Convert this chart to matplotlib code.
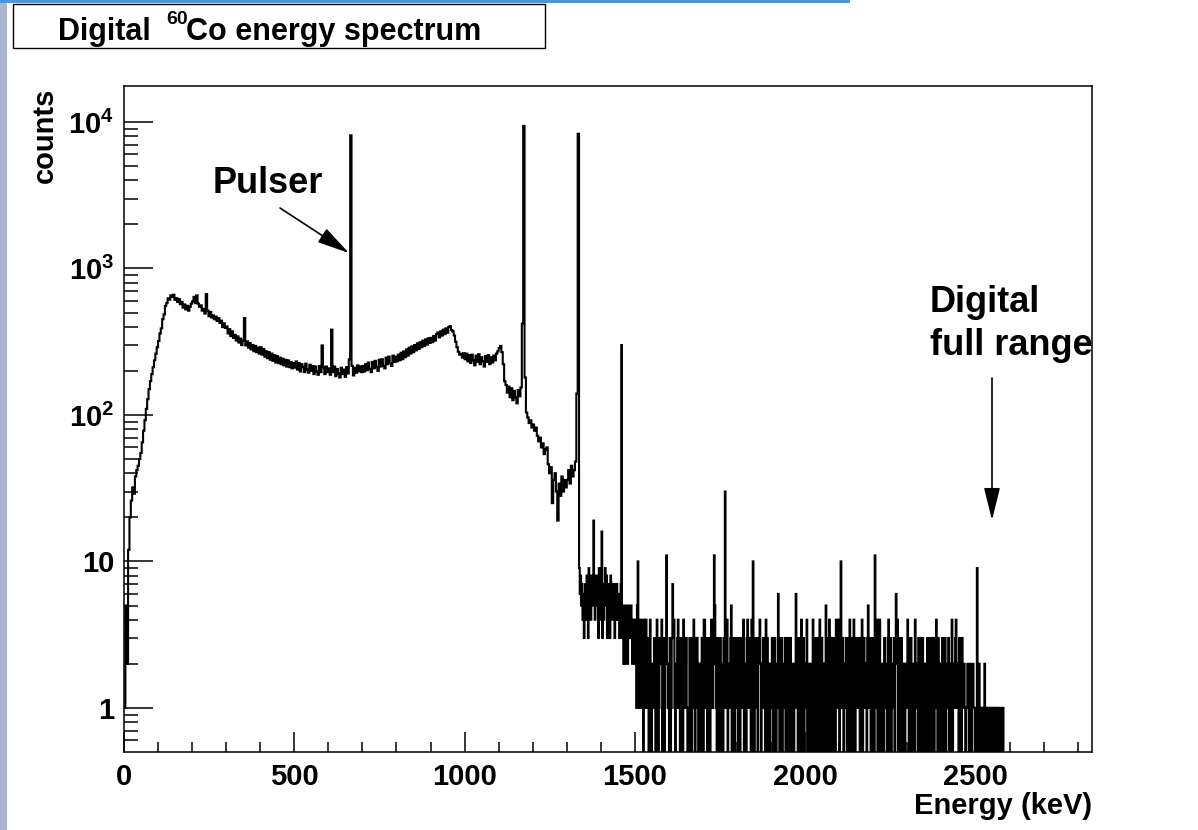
import numpy as np
import matplotlib.pyplot as plt
from matplotlib.patches import Rectangle

plt.rcParams['font.family'] = ['Liberation Sans', 'DejaVu Sans']
plt.rcParams['font.weight'] = 'bold'
plt.rcParams['mathtext.fontset'] = 'custom'
plt.rcParams['mathtext.rm'] = 'Liberation Sans:bold'
plt.rcParams['mathtext.bf'] = 'Liberation Sans:bold'
plt.rcParams['mathtext.it'] = 'Liberation Sans:bold'

# spectrum below 1336 keV, 4 keV bins (counts)
low_start = 0
low_step = 4
low_counts = [
    1, 5, 2, 12, 20, 26, 32, 29, 38, 42, 45, 50, 55, 65, 78, 92, 110, 128, 150, 170, 190, 212, 236, 262, 290,
    320, 360, 390, 450, 485, 555, 580, 625, 612, 655, 640, 662, 610, 628, 590, 618, 570, 592, 540, 568, 525, 556, 515, 548, 575,
    595, 640, 580, 655, 575, 548, 560, 515, 530, 492, 668, 515, 472, 505, 462, 478, 450, 470, 438, 458, 425, 440, 398, 422, 392,
    402, 360, 385, 345, 372, 336, 352, 322, 344, 312, 332, 300, 322, 458, 298, 318, 288, 310, 280, 300, 272, 296, 268, 288, 262,
    290, 258, 282, 250, 272, 244, 268, 238, 262, 234, 256, 228, 252, 226, 246, 222, 242, 218, 238, 214, 236, 212, 230, 208, 226,
    210, 232, 204, 226, 198, 222, 212, 196, 224, 204, 194, 220, 200, 216, 190, 214, 198, 188, 216, 196, 298, 212, 190, 214, 196,
    208, 188, 382, 196, 214, 184, 206, 192, 180, 210, 190, 204, 182, 212, 192, 240, 8100, 216, 186, 210, 194, 218, 198, 214, 196,
    216, 198, 222, 202, 228, 206, 196, 230, 208, 234, 212, 200, 238, 214, 240, 216, 208, 246, 222, 250, 226, 216, 254, 230, 250,
    232, 258, 236, 266, 240, 272, 248, 280, 254, 288, 262, 294, 268, 300, 276, 308, 282, 314, 290, 322, 296, 328, 302, 334, 310,
    336, 314, 346, 322, 356, 366, 338, 372, 348, 382, 356, 390, 364, 398, 404, 380, 372, 348, 316, 290, 270, 258, 262, 246, 264,
    240, 262, 232, 256, 226, 258, 236, 218, 254, 230, 260, 222, 248, 232, 214, 252, 230, 256, 222, 248, 228, 254, 236, 262, 272,
    286, 296, 268, 222, 170, 160, 142, 156, 132, 152, 126, 146, 132, 120, 148, 134, 154, 420, 9400, 180, 104, 96, 88, 92, 82,
    86, 78, 82, 72, 66, 70, 60, 64, 54, 58, 60, 46, 40, 44, 25, 36, 40, 30, 19, 34, 28, 38, 30, 36, 32,
    36, 42, 34, 45, 38, 42, 48, 140, 8300,
]

# tail above 1336 keV, 2 keV bins, one digit = counts in one bin
tail_start = 1336
tail_step = 2
tail_digits = (
    "9685746357" "4863957485" "6374685739" "4658374695" "8374638574"
    "5736475463" "4793524253" "4253435324" "3243152412" "3412043142"
    "1302410221" "3201430123" "2401302302" "1203013734" "1021342103"
    "2104212310" "1032301342" "0313201202" "3104421301" "2302431205"
    "2103120320" "1032312401" "2135012302" "1320320312" "3401203421"
    "2304210031" "2302342021" "3120403021" "0213202310" "1263021302"
    "2130302031" "3012002161" "3021304303" "0212401201" "2104120302"
    "1304203021" "2051203403" "1302300412" "2401321302" "1230203403"
    "2104202312" "3203240132" "1203521302" "3100213402" "2401202031"
    "1203401302" "2130262401" "3203202102" "1243021302" "2104212031"
    "3021302120" "1302130203" "2031420302" "1203021302" "2130202401"
    "2134212031" "2031121011" "2101210121" "1011901210" "1011020101"
    "1010110101" "0101101100" "1010000000" "00"
)
# tail bins with more than 9 counts
peak_keV = [1378, 1402, 1460, 1508, 1592, 1732, 1764, 1846, 2104, 2204]
peak_counts = [19, 16, 300, 10, 11, 11, 30, 10, 10, 11]

xticks = [0, 500, 1000, 1500, 2000, 2500]
yticks = [1, 10, 100, 1000, 10000]
ytick_labels = ['1', '10', r'$10^{2}$', r'$10^{3}$', r'$10^{4}$']

tail = np.array([int(c) for c in tail_digits], dtype=float)
tail[(np.array(peak_keV) - tail_start) // tail_step] = peak_counts
low = np.array(low_counts, dtype=float)
edges = np.concatenate([low_start + low_step * np.arange(len(low) + 1),
                        tail_start + tail_step * np.arange(1, len(tail) + 1)])
counts = np.concatenate([low, tail])
counts = np.where(counts > 0, counts, 1e-3)  # empty bins drop off the log axis

W, H = 1198, 830
fig = plt.figure(figsize=(W / 100, H / 100), dpi=100)
ax = fig.add_axes([124 / W, 1 - 752 / H, 968 / W, 666 / H])

ax.stairs(counts, edges, baseline=None, color='black', lw=1.5)

ax.set_yscale('log')
ax.set_xlim(0, 2842)
ax.set_ylim(0.5, 1.76e4)
ax.set_xticks(xticks)
ax.set_xticks(np.arange(0, 2842, 100), minor=True)
ax.set_yticks(yticks)
ax.set_yticklabels(ytick_labels)
minor_y = [m * 10.0 ** d for d in range(-1, 5) for m in range(2, 10)]
ax.set_yticks([v for v in minor_y if 0.5 < v < 1.76e4], minor=True)
ax.yaxis.set_minor_formatter(plt.NullFormatter())

for s in ax.spines.values():
    s.set_linewidth(1.1)
ax.tick_params(which='both', direction='in', width=1.1, labelsize=21, top=False, right=False)
ax.tick_params(axis='y', which='major', length=21, pad=7)
ax.tick_params(axis='y', which='minor', length=10)
ax.tick_params(axis='x', which='major', length=14.5, pad=8)
ax.tick_params(axis='x', which='minor', length=7.2)

fig.text(1092 / W, 1 - 806 / H, 'Energy (keV)', ha='right', va='center', fontsize=21)
fig.text(45 / W, 1 - 88 / H, 'counts', rotation=90, ha='center', va='top', fontsize=21)

# title box
fig.patches.append(Rectangle((13 / W, 1 - 48 / H), 532 / W, 44 / H, transform=fig.transFigure,
                             facecolor='white', edgecolor='black', lw=1.0))
fig.text(58 / W, 1 - 40 / H, 'Digital', fontsize=22, ha='left', va='baseline')
fig.text(166 / W, 1 - 24 / H, '60', fontsize=14, ha='left', va='baseline')
fig.text(186 / W, 1 - 40 / H, 'Co energy spectrum', fontsize=22, ha='left', va='baseline')

# window frame remains at the left and top edge
fig.patches.append(Rectangle((0, 0), 7 / W, 1, transform=fig.transFigure,
                             facecolor='#a9b6cf', edgecolor='none'))
fig.patches.append(Rectangle((0, 1 - 3 / H), 850 / W, 3 / H, transform=fig.transFigure,
                             facecolor='#3d9be6', edgecolor='none'))

# annotations
fig.text(213 / W, 1 - 193 / H, 'Pulser', fontsize=26, ha='left', va='baseline')
ax.annotate('', xy=(349, H - 253), xytext=(280, H - 208),
            xycoords='figure pixels', textcoords='figure pixels',
            arrowprops=dict(arrowstyle='-|>,head_length=2.0,head_width=0.5',
                            color='black', lw=1.2, shrinkA=0, shrinkB=0))
fig.text(930 / W, 1 - 312 / H, 'Digital', fontsize=26, ha='left', va='baseline')
fig.text(930 / W, 1 - 355 / H, 'full range', fontsize=26, ha='left', va='baseline')
ax.annotate('', xy=(992, H - 520), xytext=(992, H - 378),
            xycoords='figure pixels', textcoords='figure pixels',
            arrowprops=dict(arrowstyle='-|>,head_length=2.0,head_width=0.5',
                            color='black', lw=1.2, shrinkA=0, shrinkB=0))

fig.savefig('out.png', dpi=100)
